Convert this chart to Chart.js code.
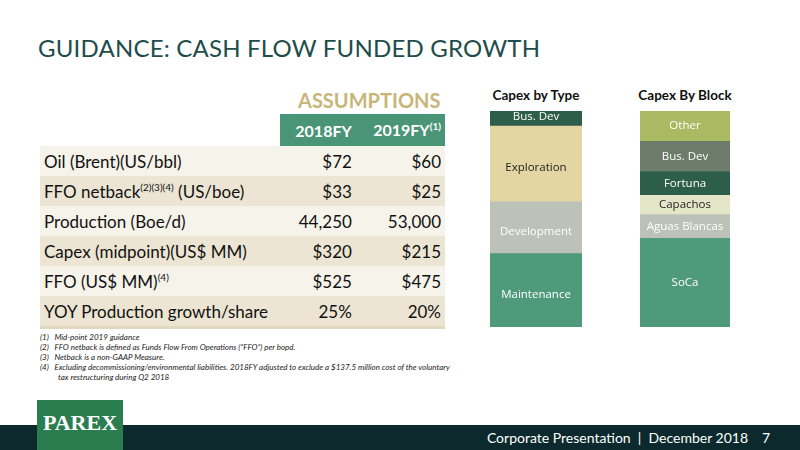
<!DOCTYPE html><html><head><meta charset="utf-8">
<script src="https://cdn.jsdelivr.net/npm/chart.js@4"></script>
<style>
body{margin:0;width:800px;height:450px;position:relative;background:#fff;font-family:Lato,"Open Sans",sans-serif;overflow:hidden}
.abs{position:absolute}
#title{left:38px;top:33px;font-size:24px;color:#1e4d4b;letter-spacing:0.2px}
#assum{left:298px;top:88px;font-size:20px;font-weight:bold;color:#c8b578}
table{position:absolute;left:40px;top:114px;width:405px;border-collapse:collapse;font-size:17px;color:#111}
td{height:30px;padding:0 4px;white-space:nowrap}
td.n{text-align:right}
th{background:#4a9478;color:#fff;font-size:16px;height:32px;text-align:right;padding:0 4px}
sup{font-size:10px}
#notes{left:40px;top:332px;font-size:8px;font-style:italic;color:#222;line-height:10px}
#notes div{padding-left:18px;text-indent:-18px}
.ct{font-size:13.5px;font-weight:bold;color:#111;top:87px;width:120px;text-align:center}
#foot{left:0;top:425px;width:800px;height:25px;background:#0c2a2d}
#logo{left:37px;top:400px;width:86px;height:50px;background:#2a7d4f;color:#fff;font-size:22px;font-weight:bold;text-align:center;line-height:46px;font-family:"Liberation Serif",serif}
#ft{right:52px;top:429px;color:#fff;font-size:14px}
#pg{right:30px;top:429px;color:#fff;font-size:14px}
</style></head><body>
<div id="title" class="abs">GUIDANCE: CASH FLOW FUNDED GROWTH</div>
<div id="assum" class="abs">ASSUMPTIONS</div>
<table>
<tr><td style="background:#fff;width:232px"></td><th>2018FY</th><th>2019FY<sup>(1)</sup></th></tr>
<tr style="background:#f6f3ea"><td>Oil (Brent)(US/bbl)</td><td class="n">$72</td><td class="n">$60</td></tr>
<tr style="background:#ece5d3"><td>FFO netback<sup>(2)(3)(4)</sup> (US/boe)</td><td class="n">$33</td><td class="n">$25</td></tr>
<tr style="background:#f6f3ea"><td>Production (Boe/d)</td><td class="n">44,250</td><td class="n">53,000</td></tr>
<tr style="background:#ece5d3"><td>Capex (midpoint)(US$ MM)</td><td class="n">$320</td><td class="n">$215</td></tr>
<tr style="background:#f6f3ea"><td>FFO (US$ MM)<sup>(4)</sup></td><td class="n">$525</td><td class="n">$475</td></tr>
<tr style="background:#ece5d3;border-bottom:3px solid #e2d8bd"><td>YOY Production growth/share</td><td class="n">25%</td><td class="n">20%</td></tr>
</table>
<div id="notes" class="abs">
<div>(1)&nbsp;&nbsp;&nbsp;Mid-point 2019 guidance</div>
<div>(2)&nbsp;&nbsp;&nbsp;FFO netback is defined as Funds Flow From Operations (“FFO”) per bopd.</div>
<div>(3)&nbsp;&nbsp;&nbsp;Netback is a non-GAAP Measure.</div>
<div style="width:400px">(4)&nbsp;&nbsp;&nbsp;Excluding decommissioning/environmental liabilities. 2018FY adjusted to exclude a $137.5 million cost of the voluntary tax restructuring during Q2 2018</div>
</div>
<div class="abs ct" style="left:476px">Capex by Type</div>
<div class="abs ct" style="left:625px">Capex By Block</div>
<div class="abs" style="left:490px;top:111px;width:92px;height:216px"><canvas id="c1"></canvas></div>
<div class="abs" style="left:640px;top:111px;width:90px;height:216px"><canvas id="c2"></canvas></div>
<div id="foot" class="abs"></div>
<div id="logo" class="abs">PAREX</div>
<div id="ft" class="abs">Corporate Presentation &nbsp;|&nbsp; December 2018</div>
<div id="pg" class="abs">7</div>
<script>
const typeLabels=["Maintenance","Development","Exploration","Bus. Dev"];
const typeValues=[34,24,35,7];
const typeColors=["#4e9a7b","#bcc2b8","#e3d6a3","#2d5e4b"];
const typeText=["#fff","#fff","#222","#fff"];
const blockLabels=["SoCa","Aguas Blancas","Capachos","Fortuna","Bus. Dev","Other"];
const blockValues=[41,11,9,11,14,14];
const blockColors=["#4e9a7b","#bcc2b8","#e3e7c8","#2d5e4b","#6c7b6a","#acb963"];
const blockText=["#fff","#fff","#222","#fff","#fff","#fff"];
const lbl={id:'lbl',afterDatasetsDraw(c){const ctx=c.ctx;c.data.datasets.forEach((d,i)=>{const el=c.getDatasetMeta(i).data[0];ctx.save();ctx.font='11.5px "Open Sans",sans-serif';ctx.fillStyle=d.txt;ctx.textAlign='center';ctx.textBaseline='middle';let y=(el.y+el.base)/2;if(d.label==="Bus. Dev"&&c.canvas.id==="c1")y=el.y+6;if(c.canvas.id==="c1"&&d.label!=="Bus. Dev")y+=4;ctx.fillText(d.label,el.x,y);ctx.restore();});}};
function mk(id,labels,vals,cols,txt){new Chart(document.getElementById(id),{type:'bar',data:{labels:[''],datasets:labels.map((l,i)=>({label:l,data:[vals[i]],backgroundColor:cols[i],txt:txt[i],barPercentage:1,categoryPercentage:1}))},options:{responsive:true,maintainAspectRatio:false,animation:false,layout:{padding:0},plugins:{legend:{display:false},tooltip:{enabled:false}},scales:{x:{stacked:true,display:false},y:{stacked:true,display:false,min:0,max:100}}},plugins:[lbl]});}
mk('c1',typeLabels,typeValues,typeColors,typeText);
mk('c2',blockLabels,blockValues,blockColors,blockText);
</script></body></html>
